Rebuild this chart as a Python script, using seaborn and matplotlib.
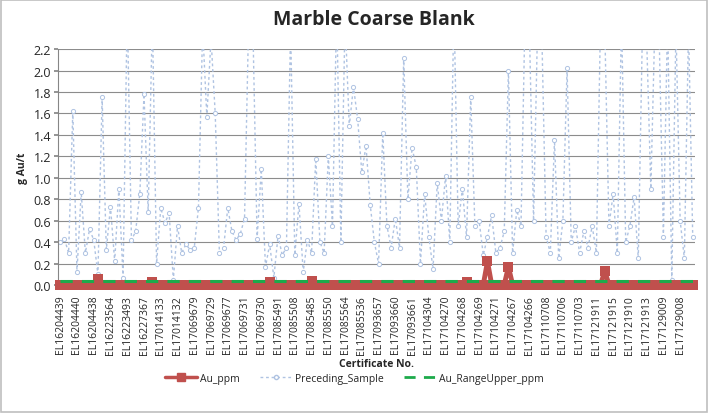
import matplotlib
matplotlib.use('Agg')
import matplotlib.pyplot as plt
import seaborn as sns
import numpy as np
import pandas as pd
from matplotlib.lines import Line2D
from matplotlib.patches import Rectangle

# Certificate labels shown on the axis (every 4th sample)
tick_labels = [
    'EL16204439', 'EL16204440', 'EL16204438', 'EL16223564', 'EL16223493',
    'EL16227367', 'EL17014133', 'EL17014132', 'EL17069679', 'EL17069729',
    'EL17069677', 'EL17069731', 'EL17069730', 'EL17085491', 'EL17085508',
    'EL17085485', 'EL17085550', 'EL17085564', 'EL17085536', 'EL17093657',
    'EL17093660', 'EL17093661', 'EL17104304', 'EL17104270', 'EL17104268',
    'EL17104269', 'EL17104271', 'EL17104267', 'EL17104266', 'EL17110708',
    'EL17110706', 'EL17110703', 'EL17121911', 'EL17121915', 'EL17121910',
    'EL17121913', 'EL17129009', 'EL17129008',
]

preceding_sample = [
    0.40, 0.43, 0.30, 1.62, 0.12, 0.87, 0.30, 0.52, 0.42, 0.10,
    1.75, 0.33, 0.73, 0.22, 0.90, 0.07, 2.60, 0.42, 0.50, 0.85,
    1.78, 0.68, 2.50, 0.20, 0.72, 0.58, 0.67, 0.05, 0.55, 0.30,
    0.38, 0.33, 0.35, 0.72, 2.40, 1.57, 2.30, 1.60, 0.30, 0.35,
    0.72, 0.50, 0.42, 0.48, 0.62, 2.50, 2.40, 0.43, 1.08, 0.17,
    0.38, 0.07, 0.46, 0.28, 0.35, 2.40, 0.28, 0.76, 0.12, 0.42,
    0.30, 1.18, 0.40, 0.30, 1.20, 0.55, 2.60, 0.40, 2.50, 1.48,
    1.85, 1.55, 1.05, 1.30, 0.75, 0.40, 0.20, 1.42, 0.55, 0.35,
    0.62, 0.35, 2.12, 0.80, 1.28, 1.10, 0.20, 0.85, 0.45, 0.15,
    0.95, 0.60, 1.02, 0.40, 2.60, 0.55, 0.90, 0.45, 1.75, 0.55,
    0.60, 0.28, 0.45, 0.65, 0.30, 0.35, 0.50, 2.00, 0.30, 0.70,
    0.55, 2.60, 2.40, 0.60, 2.50, 2.30, 0.45, 0.30, 1.35, 0.25,
    0.60, 2.02, 0.40, 0.55, 0.30, 0.50, 0.35, 0.55, 0.30, 2.50,
    2.40, 0.55, 0.85, 0.30, 2.50, 0.40, 0.55, 0.82, 0.25, 2.40,
    2.30, 0.90, 2.50, 2.30, 0.45, 2.50, 0.05, 2.40, 0.60, 0.25,
    2.40, 0.45,
]

au_ppm = [0.005] * len(preceding_sample)
au_bumps = {9: 0.055, 22: 0.025, 50: 0.03, 60: 0.035, 97: 0.03,
            102: 0.22, 107: 0.17, 130: 0.13}
for k, v in au_bumps.items():
    au_ppm[k] = v

au_range_upper = [0.04] * len(preceding_sample)

n = len(preceding_sample)
df = pd.DataFrame({
    'idx': np.arange(n),
    'Au_ppm': au_ppm,
    'Preceding_Sample': preceding_sample,
    'Au_RangeUpper_ppm': au_range_upper,
})

sns.set_theme(style='white')
plt.rcParams['font.family'] = ['Open Sans', 'DejaVu Sans']

red = '#C0504D'
blue = '#AFC3E2'
green = '#1DAA4B'

fig = plt.figure(figsize=(7.09, 4.14), dpi=100)
ax = fig.add_axes([0.082, 0.309, 0.898, 0.570])

sns.lineplot(data=df, x='idx', y='Preceding_Sample', ax=ax, color=blue,
             linewidth=1.0, linestyle=(0, (2, 2)), marker='o', markersize=3,
             markerfacecolor='white', markeredgecolor=blue, markeredgewidth=0.7,
             zorder=2)
sns.lineplot(data=df, x='idx', y='Au_ppm', ax=ax, color=red,
             linewidth=3.5, marker='s', markersize=7, markeredgewidth=0,
             zorder=4, clip_on=False)
sns.lineplot(data=df, x='idx', y='Au_RangeUpper_ppm', ax=ax, color=green,
             linewidth=2.2, linestyle=(0, (4, 3)), zorder=5, clip_on=False)

ax.set_ylim(0, 2.2)
ax.set_xlim(-0.5, n - 0.5)
ax.set_yticks(np.arange(0, 2.21, 0.2))
ax.set_yticklabels([f'{v:.1f}' for v in np.arange(0, 2.21, 0.2)], fontsize=9)
ax.set_xticks(np.arange(0, 4 * len(tick_labels), 4))
ax.set_xticklabels(tick_labels, rotation=90, fontsize=7.5)
ax.tick_params(axis='both', length=3, color='#868686', pad=2)
ax.tick_params(axis='x', direction='out', bottom=True, pad=4)
ax.tick_params(axis='y', direction='out', left=True)
ax.grid(True, axis='y', color='#8c8c8c', linewidth=0.8)
ax.grid(False, axis='x')
for s in ['top', 'right']:
    ax.spines[s].set_visible(False)
for s in ['left', 'bottom']:
    ax.spines[s].set_color('#868686')
    ax.spines[s].set_linewidth(0.8)

ax.set_xlabel('Certificate No.', fontsize=7.5, fontweight='bold', labelpad=3)
ax.set_ylabel('g Au/t', fontsize=7.5, fontweight='bold', labelpad=4)
fig.suptitle('Marble Coarse Blank', fontsize=14, fontweight='bold', x=0.527, y=0.975)

handles = [
    Line2D([], [], color=red, linewidth=2.5, marker='s', markersize=6),
    Line2D([], [], color=blue, linewidth=1.0, linestyle=(0, (2, 2)), marker='o',
           markersize=3, markerfacecolor='white'),
    Line2D([], [], color=green, linewidth=2.0, linestyle=(0, (4, 3))),
]
fig.legend(handles, ['Au_ppm', 'Preceding_Sample', 'Au_RangeUpper_ppm'],
           loc='center', bbox_to_anchor=(0.5, 0.083), ncol=3, frameon=False,
           fontsize=7.5, handlelength=3.0, columnspacing=2.0, handletextpad=0.3)

fig.patches.append(Rectangle((0.002, 0.003), 0.995, 0.994, transform=fig.transFigure,
                             fill=False, edgecolor='#bfbfbf', linewidth=1.2))

fig.savefig('out.png', dpi=100)
plt.close(fig)
